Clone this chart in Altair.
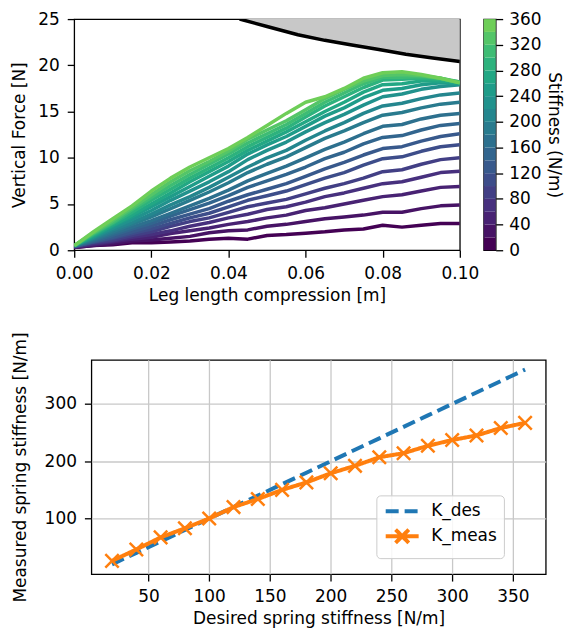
import altair as alt
import pandas as pd

# ---------------- top panel data ----------------
compression = [0.000, 0.005, 0.010, 0.015, 0.020, 0.025, 0.030, 0.035, 0.040, 0.045,
               0.050, 0.055, 0.060, 0.065, 0.070, 0.075, 0.080, 0.085, 0.090, 0.095, 0.100]
stiffness = [20, 40, 60, 80, 100, 120, 140, 160, 180, 200, 220, 240, 260, 280, 300, 320, 340, 360]

force_k20 = [0.3, 0.5, 0.6, 0.8, 0.8, 0.9, 1.0, 1.2, 1.3, 1.2, 1.6, 1.7, 1.85, 2.0, 2.2, 2.3, 2.7, 2.5, 2.7, 2.9, 2.9]
force_k40 = [0.3, 0.5, 0.7, 1.0, 1.1, 1.3, 1.5, 1.9, 2.1, 2.2, 2.6, 2.8, 3.1, 3.4, 3.6, 3.8, 4.1, 4.1, 4.5, 4.8, 4.9]
force_k60 = [0.35, 0.6, 0.9, 1.2, 1.4, 1.8, 2.1, 2.4, 2.8, 3.1, 3.5, 3.8, 4.3, 4.6, 5.0, 5.4, 5.8, 6.0, 6.4, 6.8, 6.9]
force_k80 = [0.35, 0.7, 1.0, 1.4, 1.7, 2.1, 2.6, 3.0, 3.5, 3.9, 4.4, 4.7, 5.2, 5.8, 6.2, 6.7, 7.2, 7.4, 7.9, 8.4, 8.55]
force_k100 = [0.4, 0.8, 1.1, 1.6, 2.0, 2.6, 3.1, 3.5, 4.1, 4.7, 5.1, 5.5, 6.1, 6.7, 7.2, 7.8, 8.5, 8.7, 9.3, 9.8, 10.0]
force_k120 = [0.4, 0.9, 1.3, 1.8, 2.3, 2.9, 3.5, 4.0, 4.7, 5.4, 5.9, 6.4, 7.1, 7.8, 8.4, 9.2, 9.9, 10.1, 10.7, 11.2, 11.4]
force_k140 = [0.4, 0.9, 1.4, 2.0, 2.6, 3.3, 3.9, 4.5, 5.3, 6.0, 6.6, 7.2, 8.0, 8.8, 9.5, 10.3, 11.0, 11.2, 11.8, 12.3, 12.6]
force_k160 = [0.45, 1.0, 1.6, 2.3, 2.9, 3.7, 4.4, 5.1, 5.9, 6.8, 7.5, 8.2, 9.0, 9.9, 10.6, 11.5, 12.2, 12.4, 13.0, 13.5, 13.7]
force_k180 = [0.45, 1.1, 1.8, 2.5, 3.2, 4.0, 4.8, 5.6, 6.5, 7.5, 8.3, 9.1, 10.0, 10.9, 11.7, 12.6, 13.4, 13.6, 14.2, 14.6, 14.8]
force_k200 = [0.5, 1.2, 2.0, 2.8, 3.6, 4.5, 5.4, 6.3, 7.3, 8.4, 9.3, 10.1, 11.1, 12.1, 12.9, 13.8, 14.6, 14.9, 15.4, 15.8, 16.0]
force_k220 = [0.5, 1.3, 2.2, 3.0, 3.9, 4.9, 5.8, 6.8, 7.9, 9.0, 10.0, 10.8, 11.9, 12.9, 13.8, 14.8, 15.6, 15.9, 16.4, 16.8, 17.0]
force_k240 = [0.5, 1.4, 2.4, 3.3, 4.3, 5.4, 6.4, 7.4, 8.5, 9.8, 10.8, 11.7, 12.8, 13.8, 14.7, 15.7, 16.6, 16.9, 17.4, 17.7, 17.9]
force_k260 = [0.5, 1.5, 2.6, 3.6, 4.7, 5.8, 6.9, 8.0, 9.1, 10.4, 11.4, 12.3, 13.4, 14.5, 15.4, 16.5, 17.3, 17.5, 17.9, 18.1, 18.0]
force_k280 = [0.5, 1.6, 2.7, 3.8, 5.0, 6.2, 7.4, 8.5, 9.6, 10.8, 11.8, 12.8, 13.9, 15.0, 16.0, 17.1, 17.9, 18.0, 18.3, 18.3, 18.1]
force_k300 = [0.5, 1.7, 2.9, 4.1, 5.4, 6.6, 7.8, 8.9, 10.0, 11.2, 12.2, 13.2, 14.4, 15.6, 16.6, 17.6, 18.4, 18.5, 18.6, 18.5, 18.2]
force_k320 = [0.5, 1.8, 3.0, 4.4, 5.7, 7.0, 8.2, 9.3, 10.4, 11.6, 12.6, 13.6, 14.8, 16.0, 17.0, 18.0, 18.7, 18.7, 18.8, 18.6, 18.2]
force_k340 = [0.5, 1.9, 3.2, 4.6, 6.0, 7.4, 8.6, 9.6, 10.7, 12.0, 13.0, 14.0, 15.2, 16.4, 17.4, 18.3, 18.9, 19.0, 18.9, 18.6, 18.1]
force_k360 = [0.5, 2.0, 3.4, 4.8, 6.4, 7.8, 9.0, 10.0, 11.0, 12.2, 13.5, 14.8, 16.0, 16.6, 17.5, 18.6, 19.2, 19.3, 19.0, 18.6, 18.1]

force_series = [force_k20, force_k40, force_k60, force_k80, force_k100, force_k120,
                force_k140, force_k160, force_k180, force_k200, force_k220, force_k240,
                force_k260, force_k280, force_k300, force_k320, force_k340, force_k360]

# limit curve (grey region above it)
limit_x = [0.0429, 0.050, 0.058, 0.065, 0.072, 0.079, 0.086, 0.093, 0.100]
limit_f = [25.0, 24.2, 23.3, 22.7, 22.2, 21.7, 21.2, 20.8, 20.4]

# colorbar bands
band_lo = [0, 20, 40, 60, 80, 100, 120, 140, 160, 180, 200, 220, 240, 260, 280, 300, 320, 340]
band_hi = [20, 40, 60, 80, 100, 120, 140, 160, 180, 200, 220, 240, 260, 280, 300, 320, 340, 360]

# ---------------- bottom panel data ----------------
desired = [20, 40, 60, 80, 100, 120, 140, 160, 180, 200, 220, 240, 260, 280, 300, 320, 340, 360]
measured = [26, 46, 67, 83, 100, 120, 134, 150, 163, 179, 192, 207, 214, 227, 237, 245, 258, 267]

# ---------------- build tables ----------------
rows = []
for k, fs in zip(stiffness, force_series):
    for x, f in zip(compression, fs):
        rows.append({"k": k, "x": x, "F": f})
lines_df = pd.DataFrame(rows)
limit_df = pd.DataFrame({"x": limit_x, "F": limit_f})
cb_df = pd.DataFrame({"lo": band_lo, "hi": band_hi, "k": stiffness})

brows = []
for d in desired:
    brows.append({"series": "K_des", "des": d, "val": d})
for d, m in zip(desired, measured):
    brows.append({"series": "K_meas", "des": d, "val": m})
bdf = pd.DataFrame(brows)

FONT = "DejaVu Sans"
color_scale = alt.Scale(scheme=alt.SchemeParams(name="viridis", extent=[0, 0.78]), domain=[20, 360])

xscale = alt.Scale(domain=[0, 0.1], nice=False)
yscale = alt.Scale(domain=[0, 25], nice=False)

area = alt.Chart(limit_df).mark_area(color="#c8c8c8", clip=True).encode(
    x=alt.X("x:Q", scale=xscale),
    y=alt.Y("F:Q", scale=yscale),
    y2=alt.datum(25),
)
limit_line = alt.Chart(limit_df).mark_line(color="black", strokeWidth=3.5, clip=True).encode(
    x=alt.X("x:Q", scale=xscale),
    y=alt.Y("F:Q", scale=yscale),
)
force_lines = alt.Chart(lines_df).mark_line(strokeWidth=3.5, clip=True, strokeJoin="round").encode(
    x=alt.X("x:Q", scale=xscale,
            axis=alt.Axis(values=[0, 0.02, 0.04, 0.06, 0.08, 0.1], format=".2f",
                          title="Leg length compression [m]", titlePadding=6)),
    y=alt.Y("F:Q", scale=yscale,
            axis=alt.Axis(values=[0, 5, 10, 15, 20, 25], title="Vertical Force [N]", titlePadding=9)),
    color=alt.Color("k:Q", scale=color_scale, legend=None),
    detail="k:N",
)
top_main = alt.layer(area, force_lines, limit_line).properties(width=387, height=232)

colorbar = alt.Chart(cb_df).mark_rect().encode(
    y=alt.Y("lo:Q", scale=alt.Scale(domain=[0, 360], nice=False),
            axis=alt.Axis(orient="right", values=list(range(0, 361, 40)),
                          title="Stiffness (N/m)", titlePadding=4, labelPadding=6)),
    y2="hi:Q",
    color=alt.Color("k:Q", scale=color_scale, legend=None),
).properties(width=12, height=232)

top_row = alt.hconcat(top_main, colorbar, spacing=24, bounds="flush")

# bottom
bx = alt.X("des:Q", scale=alt.Scale(domain=[3, 377], nice=False),
           axis=alt.Axis(values=[50, 100, 150, 200, 250, 300, 350], grid=True,
                         title="Desired spring stiffness [N/m]", titlePadding=6))
by = alt.Y("val:Q", scale=alt.Scale(domain=[3, 377], nice=False),
           axis=alt.Axis(values=[100, 200, 300], grid=True,
                         title="Measured spring stiffness [N/m]", titlePadding=15))
series_colors = alt.Scale(domain=["K_des", "K_meas"], range=["#1f77b4", "#ff7f0e"])
series_dash = alt.Scale(domain=["K_des", "K_meas"], range=[[13, 6], [1, 0]])

leg = alt.Legend(
    title=None, orient="none", legendX=286, legendY=136,
    labelFontSize=17, labelFont=FONT, labelColor="black",
    symbolSize=175, symbolStrokeWidth=4, labelOffset=30,
    padding=7, rowPadding=2,
    fillColor="rgba(255,255,255,0.85)", strokeColor="#cccccc", cornerRadius=4,
    symbolType=alt.ExprRef(expr="datum.label === 'K_meas' ? 'M-1,0L4,0M0.5,-1L2.5,1M0.5,1L2.5,-1' : 'M-1,0L4,0'"),
    symbolDash=alt.ExprRef(expr="datum.label === 'K_des' ? [13, 6] : [1, 0]"),
)

b_lines = alt.Chart(bdf).mark_line(strokeWidth=4).encode(
    x=bx, y=by,
    color=alt.Color("series:N", scale=series_colors, legend=leg),
    strokeDash=alt.StrokeDash("series:N", scale=series_dash, legend=None),
)
b_points = alt.Chart(bdf).transform_filter(alt.datum.series == "K_meas").mark_point(
    shape="M-1,-1L1,1M-1,1L1,-1", size=180, strokeWidth=2.5, filled=False, opacity=1
).encode(
    x=bx, y=by,
    color=alt.Color("series:N", scale=series_colors, legend=leg),
)
bottom = alt.layer(b_lines, b_points).properties(width=456, height=215)

chart = alt.vconcat(top_row, bottom, spacing=27, center=True).properties(
    padding={"left": 2, "top": 0, "right": 1, "bottom": 0}
).configure_axis(
    labelFont=FONT, titleFont=FONT, labelFontSize=17, titleFontSize=17,
    titleFontWeight="normal", labelColor="black", titleColor="black",
    tickColor="black", tickSize=7, tickWidth=1.3, labelPadding=8, labelFlush=False,
    domain=False, grid=False, gridColor="#c8c8c8", gridWidth=1.3,
).configure_view(stroke="black", strokeWidth=1.3)

chart.save("out.html", embed_options={"renderer": "svg", "actions": False})
